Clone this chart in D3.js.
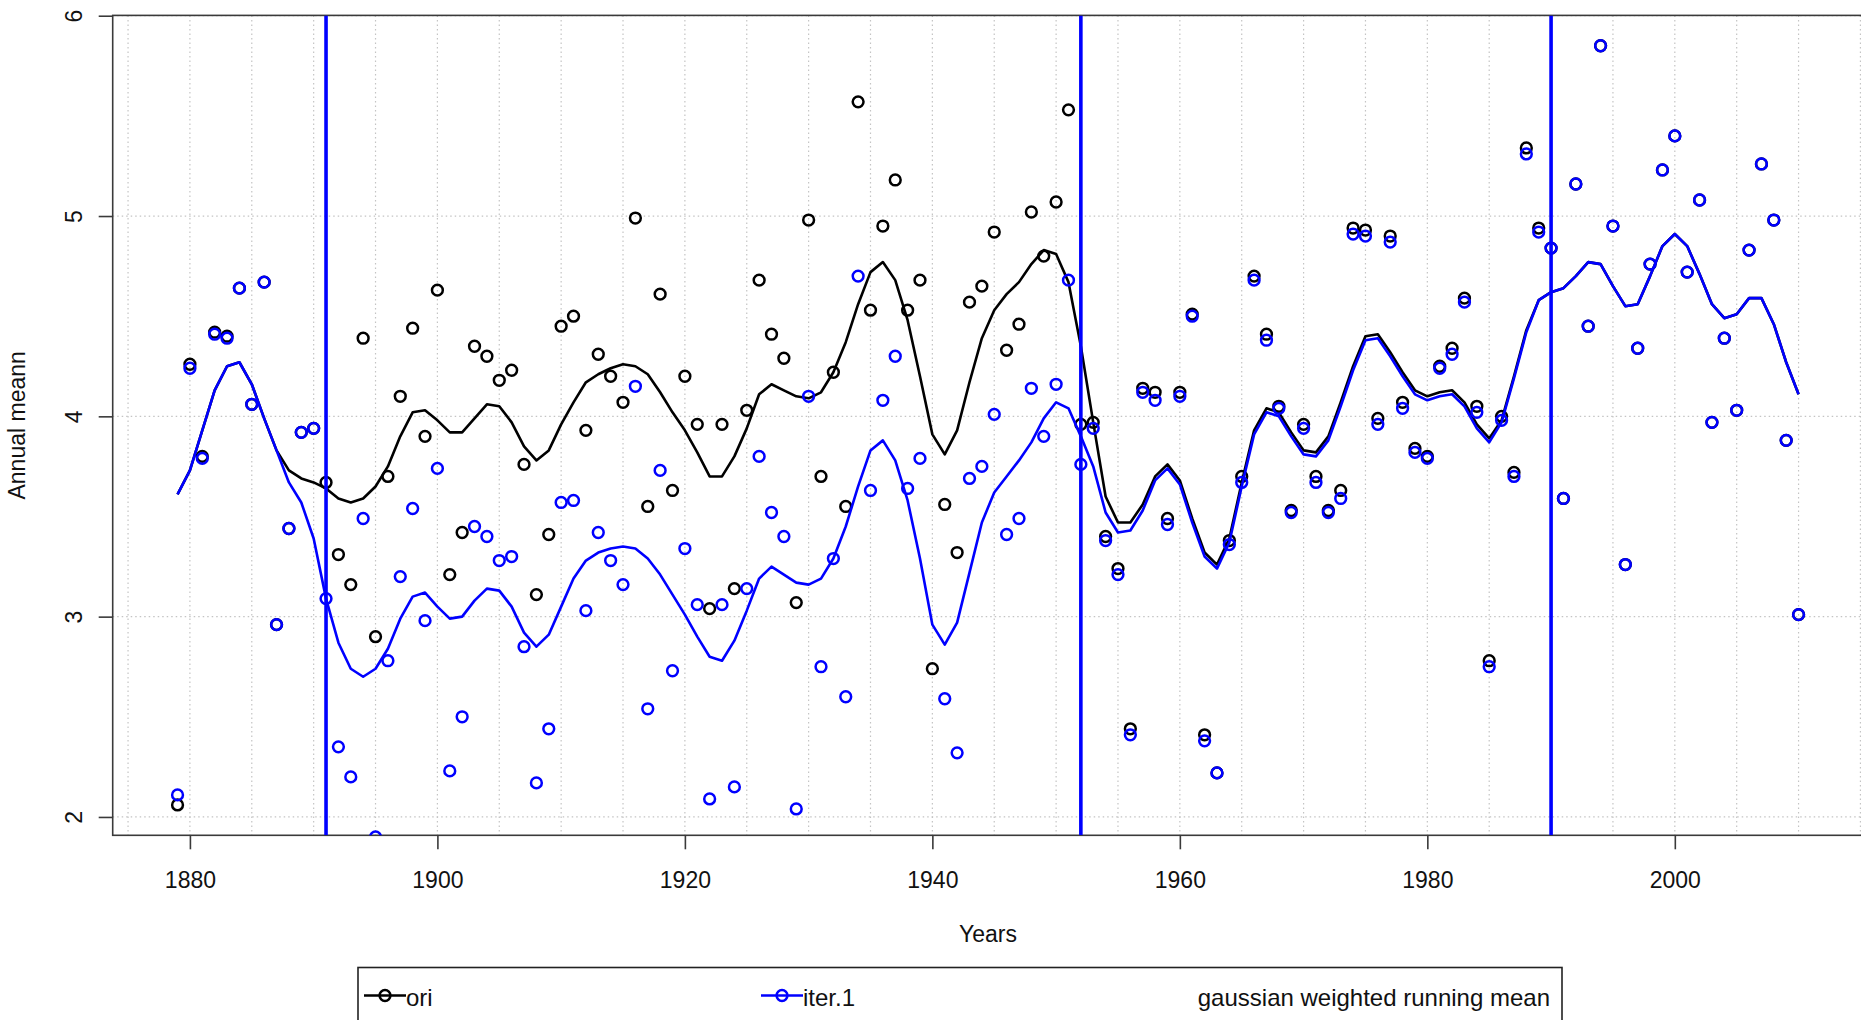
<!DOCTYPE html>
<html lang="en">
<head>
<meta charset="UTF-8">
<title>Annual meann</title>
<script src="https://cdn.jsdelivr.net/npm/d3@7"></script>
<style>
  body { margin: 0; background: #fff; }
  text { font-family: "Liberation Sans", Arial, sans-serif; fill: #111; }
</style>
</head>
<body>
<div id="chart"></div>
<script>
// years run 1879..2010, one value per year
const firstYear = 1879, lastYear = 2010;

const ori = [
  2.06, 4.26, 3.80, 4.42, 4.40, 4.64, 4.06, 4.67, 2.96, 3.44, 3.92, 3.94,
  3.67, 3.31, 3.16, 4.39, 2.90, 3.70, 4.10, 4.44, 3.90, 4.63,
  3.21, 3.42, 4.35, 4.30, 4.18, 4.23, 3.76, 3.11, 3.41, 4.45,
  4.50, 3.93, 4.31, 4.20, 4.07, 4.99, 3.55, 4.61, 3.63, 4.20,
  3.96, 3.04, 3.96, 3.14, 4.03, 4.68, 4.41, 4.29, 3.07, 4.98,
  3.70, 4.22, 3.55, 5.57, 4.53, 4.95, 5.18, 4.53, 4.68, 2.74,
  3.56, 3.32, 4.57, 4.65, 4.92, 4.33, 4.46, 5.02, 4.80, 5.07,
  5.53, 3.96, 3.97, 3.40, 3.24, 2.44, 4.14, 4.12, 3.49, 4.12,
  4.51, 2.41, 2.22, 3.38, 3.70, 4.70, 4.41, 4.05, 3.53, 3.96,
  3.70, 3.53, 3.63, 4.94, 4.93, 3.99, 4.90, 4.07, 3.84, 3.80,
  4.25, 4.34, 4.59, 4.05, 2.78, 4.00, 3.72, 5.34, 4.94, 4.84,
  3.59, 5.16, 4.45, 5.85, 4.95, 3.26, 4.34, 4.76, 5.23, 5.40,
  4.72, 5.08, 3.97, 4.39, 4.03, 4.83, 5.26, 4.98, 3.88, 3.01
];

const iter1 = [
  2.11, 4.24, 3.79, 4.41, 4.39, 4.64, 4.06, 4.67, 2.96, 3.44, 3.92, 3.94,
  3.09, 2.35, 2.20, 3.49, 1.90, 2.78, 3.20, 3.54, 2.98, 3.74,
  2.23, 2.50, 3.45, 3.40, 3.28, 3.30, 2.85, 2.17, 2.44, 3.57,
  3.58, 3.03, 3.42, 3.28, 3.16, 4.15, 2.54, 3.73, 2.73, 3.34,
  3.06, 2.09, 3.06, 2.15, 3.14, 3.80, 3.52, 3.40, 2.04, 4.10,
  2.75, 3.29, 2.60, 4.70, 3.63, 4.08, 4.30, 3.64, 3.79, 1.82,
  2.59, 2.32, 3.69, 3.75, 4.01, 3.41, 3.49, 4.14, 3.90, 4.16,
  4.68, 3.76, 3.94, 3.38, 3.21, 2.41, 4.12, 4.08, 3.46, 4.10,
  4.50, 2.38, 2.22, 3.36, 3.67, 4.68, 4.38, 4.04, 3.52, 3.94,
  3.67, 3.52, 3.59, 4.91, 4.90, 3.96, 4.87, 4.04, 3.82, 3.79,
  4.24, 4.31, 4.57, 4.02, 2.75, 3.98, 3.70, 5.31, 4.92, 4.84,
  3.59, 5.16, 4.45, 5.85, 4.95, 3.26, 4.34, 4.76, 5.23, 5.40,
  4.72, 5.08, 3.97, 4.39, 4.03, 4.83, 5.26, 4.98, 3.88, 3.01
];

// gaussian weighted running mean
const oriSmooth = [
  3.61, 3.73, 3.93, 4.13, 4.25, 4.27, 4.16, 3.99, 3.83, 3.73, 3.69, 3.67,
  3.64, 3.59, 3.57, 3.59, 3.65, 3.75, 3.90, 4.02, 4.03, 3.98,
  3.92, 3.92, 3.99, 4.06, 4.05, 3.97, 3.85, 3.78, 3.83, 3.96,
  4.07, 4.17, 4.21, 4.24, 4.26, 4.25, 4.21, 4.12, 4.02, 3.93,
  3.82, 3.70, 3.70, 3.80, 3.94, 4.11, 4.16, 4.13, 4.10, 4.09,
  4.12, 4.22, 4.37, 4.56, 4.72, 4.77, 4.68, 4.48, 4.20, 3.91,
  3.81, 3.93, 4.17, 4.39, 4.53, 4.61, 4.67, 4.76, 4.83, 4.81,
  4.67, 4.35, 3.97, 3.60, 3.47, 3.47, 3.56, 3.70, 3.76, 3.68,
  3.49, 3.32, 3.26, 3.39, 3.67, 3.93, 4.04, 4.02, 3.92, 3.83,
  3.82, 3.90, 4.07, 4.25, 4.40, 4.41, 4.32, 4.22, 4.13, 4.10,
  4.12, 4.13, 4.07, 3.96, 3.89, 3.98, 4.20, 4.43, 4.58, 4.62,
  4.64, 4.70, 4.77, 4.76, 4.65, 4.55, 4.56, 4.70, 4.85, 4.91,
  4.85, 4.71, 4.56, 4.49, 4.51, 4.59, 4.59, 4.46, 4.27, 4.11
];

const iter1Smooth = [
  3.61, 3.73, 3.93, 4.13, 4.25, 4.27, 4.16, 3.99, 3.83, 3.67, 3.57, 3.39,
  3.09, 2.87, 2.74, 2.70, 2.74, 2.84, 2.99, 3.10, 3.12, 3.05,
  2.99, 3.00, 3.08, 3.14, 3.13, 3.05, 2.92, 2.85, 2.91, 3.05,
  3.19, 3.28, 3.32, 3.34, 3.35, 3.34, 3.29, 3.21, 3.11, 3.01,
  2.90, 2.80, 2.78, 2.88, 3.03, 3.19, 3.25, 3.21, 3.17, 3.16,
  3.19, 3.29, 3.45, 3.65, 3.83, 3.88, 3.78, 3.58, 3.29, 2.96,
  2.86, 2.97, 3.22, 3.47, 3.62, 3.70, 3.78, 3.87, 3.99, 4.07,
  4.04, 3.90, 3.75, 3.52, 3.42, 3.43, 3.53, 3.68, 3.74, 3.66,
  3.47, 3.30, 3.24, 3.37, 3.65, 3.91, 4.02, 4.00, 3.90, 3.81,
  3.80, 3.88, 4.05, 4.23, 4.38, 4.39, 4.30, 4.20, 4.11, 4.08,
  4.10, 4.11, 4.05, 3.94, 3.87, 3.97, 4.19, 4.42, 4.58, 4.62,
  4.64, 4.70, 4.77, 4.76, 4.65, 4.55, 4.56, 4.70, 4.85, 4.91,
  4.85, 4.71, 4.56, 4.49, 4.51, 4.59, 4.59, 4.46, 4.27, 4.11
];

const breakYears = [1891, 1952, 1990];
const xTicks = [1880, 1900, 1920, 1940, 1960, 1980, 2000];
const yTicks = [2, 3, 4, 5, 6];
const gridYears = d3.range(1875, 2016, 5);
const seriesNames = ["ori", "iter.1"];
const seriesColors = ["#000000", "#0000ff"];
const legendTitle = "gaussian weighted running mean";

const years = d3.range(firstYear, lastYear + 1);

var width = 1861, height = 1020;
var plot = {left: 112.7, right: 1863.4, top: 15.4, bottom: 835.3};
var pointR = 5.4, pointW = 2.5, lineW = 2.6;

// R style axis range: data extent + 4% on each side
function pad4(ext) {
    var d = (ext[1] - ext[0]) * 0.04;
    return [ext[0] - d, ext[1] + d];
}

var x = d3.scaleLinear().domain(pad4(d3.extent(years))).range([plot.left, plot.right]);
var y = d3.scaleLinear().domain(pad4(d3.extent(ori))).range([plot.bottom, plot.top]);

var svg = d3.select("#chart")
  .append("svg")
    .attr("width", width)
    .attr("height", height)
    .style("display", "block");

svg.append("clipPath")
    .attr("id", "plotclip")
  .append("rect")
    .attr("x", plot.left)
    .attr("y", plot.top)
    .attr("width", plot.right - plot.left)
    .attr("height", plot.bottom - plot.top);

// dotted grid
var grid = svg.append("g")
    .attr("stroke", "#c4c4c4")
    .attr("stroke-width", 1.2)
    .attr("stroke-dasharray", "1.5,3");

grid.selectAll("line.v")
    .data(gridYears)
    .enter()
    .append("line")
    .attr("x1", d => x(d)).attr("x2", d => x(d))
    .attr("y1", plot.top).attr("y2", plot.bottom);

grid.selectAll("line.h")
    .data(yTicks)
    .enter()
    .append("line")
    .attr("x1", plot.left).attr("x2", plot.right)
    .attr("y1", d => y(d)).attr("y2", d => y(d));

// box
svg.append("rect")
    .attr("x", plot.left)
    .attr("y", plot.top)
    .attr("width", plot.right - plot.left)
    .attr("height", plot.bottom - plot.top)
    .attr("fill", "none")
    .attr("stroke", "#3a3a3a")
    .attr("stroke-width", 1.6);

var data = years.map((yr, i) => ({year: yr, ori: ori[i], iter1: iter1[i], oriS: oriSmooth[i], iterS: iter1Smooth[i]}));

var inner = svg.append("g").attr("clip-path", "url(#plotclip)");

var lineOri = d3.line().x(d => x(d.year)).y(d => y(d.oriS));
var lineIter = d3.line().x(d => x(d.year)).y(d => y(d.iterS));

inner.append("g")
    .selectAll("circle")
    .data(data)
    .enter()
    .append("circle")
    .attr("cx", d => x(d.year))
    .attr("cy", d => y(d.ori))
    .attr("r", pointR)
    .attr("fill", "none")
    .attr("stroke", seriesColors[0])
    .attr("stroke-width", pointW);

inner.append("path")
    .datum(data)
    .attr("d", lineOri)
    .attr("fill", "none")
    .attr("stroke", seriesColors[0])
    .attr("stroke-width", lineW)
    .attr("stroke-linejoin", "round");

inner.append("g")
    .selectAll("circle")
    .data(data)
    .enter()
    .append("circle")
    .attr("cx", d => x(d.year))
    .attr("cy", d => y(d.iter1))
    .attr("r", pointR)
    .attr("fill", "none")
    .attr("stroke", seriesColors[1])
    .attr("stroke-width", pointW);

inner.append("path")
    .datum(data)
    .attr("d", lineIter)
    .attr("fill", "none")
    .attr("stroke", seriesColors[1])
    .attr("stroke-width", lineW)
    .attr("stroke-linejoin", "round");

// break lines
inner.selectAll("line.brk")
    .data(breakYears)
    .enter()
    .append("line")
    .attr("x1", d => x(d)).attr("x2", d => x(d))
    .attr("y1", plot.top).attr("y2", plot.bottom)
    .attr("stroke", "#0000ff")
    .attr("stroke-width", 3.6);

// x axis
svg.append("g")
    .attr("transform", "translate(0," + plot.bottom + ")")
    .call(d3.axisBottom(x).tickValues(xTicks).tickSize(14).tickFormat(d3.format("d")))
    .call(g => g.select(".domain").remove())
    .call(g => g.selectAll("line").attr("stroke", "#3a3a3a").attr("stroke-width", 1.6))
    .call(g => g.selectAll("text")
        .attr("y", 52.5)
        .attr("dy", null)
        .style("font-size", "23px")
        .attr("fill", "#111"));

// y axis, labels parallel to the axis
svg.append("g")
    .attr("transform", "translate(" + plot.left + ",0)")
    .call(d3.axisLeft(y).tickValues(yTicks).tickSize(14).tickFormat(d3.format("d")))
    .call(g => g.select(".domain").remove())
    .call(g => g.selectAll("line").attr("stroke", "#3a3a3a").attr("stroke-width", 1.6))
    .call(g => g.selectAll("text")
        .attr("x", null)
        .attr("dy", null)
        .attr("transform", "translate(-31,0) rotate(-90)")
        .attr("text-anchor", "middle")
        .style("font-size", "23px")
        .attr("fill", "#111"));

svg.append("text")
    .attr("x", (plot.left + plot.right) / 2)
    .attr("y", 942)
    .attr("text-anchor", "middle")
    .style("font-size", "23px")
    .text("Years");

svg.append("text")
    .attr("transform", "translate(25," + ((plot.top + plot.bottom) / 2) + ") rotate(-90)")
    .attr("text-anchor", "middle")
    .style("font-size", "23px")
    .text("Annual meann");

// legend
var legend = svg.append("g");
legend.append("rect")
    .attr("x", 358)
    .attr("y", 967.5)
    .attr("width", 1204)
    .attr("height", 120)
    .attr("fill", "#fff")
    .attr("stroke", "#222")
    .attr("stroke-width", 1.6);

var legendX = [364, 761];
var items = legend.selectAll("g.item")
    .data(seriesNames)
    .enter()
    .append("g")
    .attr("transform", (d, i) => "translate(" + legendX[i] + ",995.5)");

items.append("line")
    .attr("x1", 0).attr("x2", 42)
    .attr("y1", 0).attr("y2", 0)
    .attr("stroke", (d, i) => seriesColors[i])
    .attr("stroke-width", lineW);

items.append("circle")
    .attr("cx", 21).attr("cy", 0)
    .attr("r", pointR)
    .attr("fill", "none")
    .attr("stroke", (d, i) => seriesColors[i])
    .attr("stroke-width", pointW);

items.append("text")
    .attr("x", 42)
    .attr("y", 10)
    .style("font-size", "24px")
    .text(d => d);

legend.append("text")
    .attr("x", 1550)
    .attr("y", 1005.5)
    .attr("text-anchor", "end")
    .style("font-size", "24px")
    .text(legendTitle);
</script>
</body>
</html>
